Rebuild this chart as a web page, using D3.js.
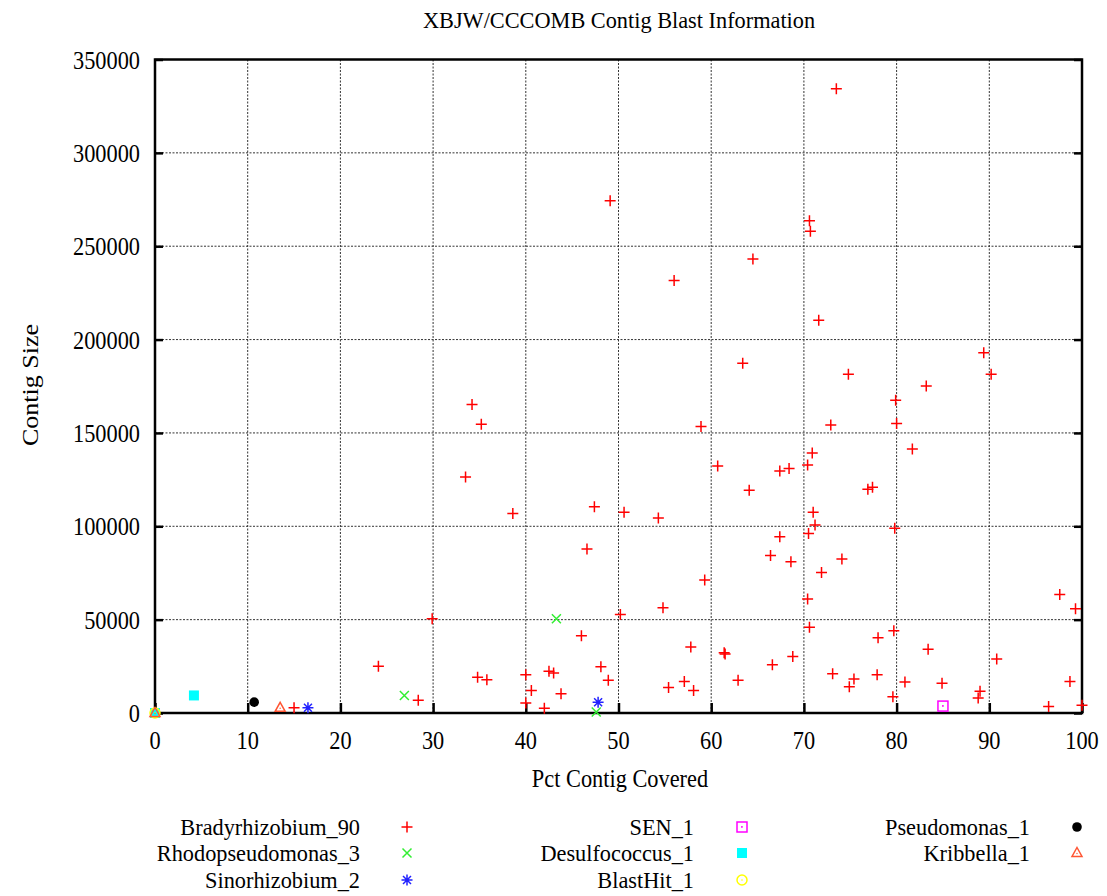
<!DOCTYPE html>
<html>
<head>
<meta charset="utf-8">
<script src="https://cdn.jsdelivr.net/npm/d3@7"></script>
<style>
  body { margin: 0; background: #fff; }
  svg text { font-family: "Liberation Serif", "Times New Roman", serif; fill: #000; }
</style>
</head>
<body>
<svg id="chart" width="1107" height="896"></svg>
<script>
// values: [pct contig covered, contig size]
const bradyrhizobium = [
  [73.5,334400],[70.6,263700],[70.7,258000],[64.5,243200],[56.0,231600],[71.6,210300],[63.4,187300],
  [89.4,193000],[74.8,181400],[90.2,181400],[83.2,175100],[49.1,274400],
  [34.2,165200],[35.2,154600],[33.5,126400],[38.6,106800],[47.4,110500],[46.6,87800],
  [79.9,167500],[58.9,153500],[72.9,154200],[80.0,155100],[81.7,141400],[70.9,139200],[60.7,132300],
  [70.4,132800],[67.4,129600],[68.4,130900],[76.9,119800],[77.4,120900],[64.1,119300],[50.6,107500],
  [54.3,104400],[71.0,107500],[71.2,100700],[79.8,98900],[70.5,96100],[67.4,94400],[66.4,84400],
  [68.6,81000],[74.1,82500],[71.9,75200],[59.3,71200],[97.6,63500],[99.3,55900],[70.4,61000],[54.8,56400],
  [50.2,52800],[46.0,41400],[57.8,35300],[61.4,32300],[61.5,31600],[68.8,30300],[66.6,25900],[48.1,24800],
  [40.0,20500],[42.5,22400],[43.0,21400],[35.8,17800],[48.9,17500],[55.4,13600],[57.1,16900],[58.1,12100],
  [62.9,17500],[40.6,12100],[43.8,10300],[40.0,5300],[42.0,2600],
  [29.9,50500],[24.1,25000],[34.8,19200],[28.4,6800],[15.0,2800],
  [70.6,45900],[78.0,40300],[79.7,44100],[83.4,34200],[90.8,28900],[73.1,21000],[75.4,18200],[74.9,14100],
  [77.9,20500],[80.9,16600],[84.9,16000],[89.0,11700],[88.8,8000],[79.6,8700],[98.7,16900],[96.4,3500],[100.0,4200]
];
const rhodopseudomonas = [[26.9,9400],[43.3,50500],[47.6,500],[0,0]];
const sinorhizobium = [[16.5,2800],[47.8,5800]];
const sen = [[85.0,3700]];
const desulfococcus = [[4.2,9400],[0,0]];
const blastHit = [[0,0]];
const pseudomonas = [[10.7,5800]];
const kribbella = [[13.5,2800],[0,0]];

const seriesNames = ["Bradyrhizobium_90","Rhodopseudomonas_3","Sinorhizobium_2","SEN_1",
                     "Desulfococcus_1","BlastHit_1","Pseudomonas_1","Kribbella_1"];
const seriesData = [bradyrhizobium, rhodopseudomonas, sinorhizobium, sen,
                    desulfococcus, blastHit, pseudomonas, kribbella];

const xTicks = [0,10,20,30,40,50,60,70,80,90,100];
const yTicks = [0,50000,100000,150000,200000,250000,300000,350000];

const svg = d3.select("#chart");
const plotLeft = 155, plotRight = 1082, plotTop = 59.5, plotBottom = 713;

const x = d3.scaleLinear().domain([0,100]).range([plotLeft,plotRight]);
const y = d3.scaleLinear().domain([0,350000]).range([plotBottom,plotTop]);

// squeezed serif text, the original looks horizontally condensed
function label(g, tx, ty, str, size, anchor, sx) {
  return g.append("text")
    .attr("transform", `translate(${tx},${ty}) scale(${sx},1)`)
    .attr("text-anchor", anchor)
    .attr("dy", "0.35em")
    .style("font-size", size + "px")
    .text(str);
}

// grid
const grid = svg.append("g");
grid.selectAll(".vg").data(xTicks.slice(1, -1)).enter().append("line")
  .attr("x1", d => x(d)).attr("x2", d => x(d)).attr("y1", plotTop).attr("y2", plotBottom)
  .attr("stroke", "#333").attr("stroke-width", 1).attr("stroke-dasharray", "2,1.5");
grid.selectAll(".hg").data(yTicks.slice(1, -1)).enter().append("line")
  .attr("x1", plotLeft).attr("x2", plotRight).attr("y1", d => y(d)).attr("y2", d => y(d))
  .attr("stroke", "#333").attr("stroke-width", 1).attr("stroke-dasharray", "2,1.5");

// axes: ticks inward, labels by hand so the font can be squeezed
const xAxis = svg.append("g").attr("transform", `translate(0,${plotBottom})`)
  .call(d3.axisBottom(x).tickValues(xTicks).tickSize(-10).tickFormat(""));
const yAxis = svg.append("g").attr("transform", `translate(${plotLeft},0)`)
  .call(d3.axisLeft(y).tickValues(yTicks).tickSize(-8).tickFormat(""));
const yAxisR = svg.append("g").attr("transform", `translate(${plotRight},0)`)
  .call(d3.axisRight(y).tickValues(yTicks).tickSize(-8).tickFormat(""));
[xAxis, yAxis, yAxisR].forEach(a => {
  a.select(".domain").remove();
  a.selectAll(".tick line").attr("stroke", "#000").attr("stroke-width", 2.5);
});

svg.append("rect")
  .attr("x", plotLeft).attr("y", plotTop)
  .attr("width", plotRight - plotLeft).attr("height", plotBottom - plotTop)
  .attr("fill", "none").attr("stroke", "#000").attr("stroke-width", 2.5);

const labels = svg.append("g");
xTicks.forEach(t => label(labels, x(t), 740, t, 26, "middle", 0.86));
yTicks.forEach(t => label(labels, 140, y(t), t, 26, "end", 0.86));

label(labels, 619, 20, "XBJW/CCCOMB Contig Blast Information", 24, "middle", 0.93);
label(labels, 620, 778, "Pct Contig Covered", 26, "middle", 0.86);
labels.append("text")
  .attr("transform", "translate(30,385) rotate(-90) scale(1,0.86)")
  .attr("text-anchor", "middle").attr("dy", "0.35em")
  .style("font-size", "26px").text("Contig Size");

// marker shapes, one per series
const markers = [
  { color: "#ff0000", draw: g => g.append("path").attr("d", "M-5.5,0H5.5M0,-5.5V5.5").attr("fill", "none").attr("stroke-width", 1.5) },
  { color: "#33ee33", draw: g => g.append("path").attr("d", "M-4.5,-4.5L4.5,4.5M-4.5,4.5L4.5,-4.5").attr("fill", "none").attr("stroke-width", 1.5) },
  { color: "#2222ff", draw: g => g.append("path").attr("d", "M-5.5,0H5.5M0,-5.5V5.5M-4,-4L4,4M-4,4L4,-4").attr("fill", "none").attr("stroke-width", 1.5) },
  { color: "#ff00ff", draw: g => {
      g.append("rect").attr("x", -5).attr("y", -5).attr("width", 10).attr("height", 10).attr("fill", "none").attr("stroke-width", 1.5);
      g.append("rect").attr("x", -0.6).attr("y", -0.6).attr("width", 1.2).attr("height", 1.2).attr("stroke-width", 0.5);
    } },
  { color: "#00ffff", draw: g => g.append("rect").attr("x", -5).attr("y", -5).attr("width", 10).attr("height", 10).attr("stroke", "none") },
  { color: "#ffff00", draw: g => {
      g.append("circle").attr("r", 5).attr("fill", "none").attr("stroke-width", 1.5);
      g.append("circle").attr("r", 0.8).attr("stroke", "none");
    } },
  { color: "#000000", draw: g => g.append("circle").attr("r", 4.8).attr("stroke", "none") },
  { color: "#ff5533", draw: g => {
      g.append("path").attr("d", "M0,-5.5L5,3.5L-5,3.5Z").attr("fill", "none").attr("stroke-width", 1.5);
      g.append("circle").attr("cy", 0.5).attr("r", 0.7).attr("stroke", "none");
    } }
];

// points
const plot = svg.append("g");
seriesData.forEach((data, i) => {
  const m = markers[i];
  plot.append("g").selectAll("g").data(data).enter().append("g")
    .attr("transform", d => `translate(${x(d[0])},${y(d[1])})`)
    .attr("stroke", m.color).attr("fill", m.color)
    .each(function () { m.draw(d3.select(this)); });
});

// legend: three columns
const legendCols = [[360, 407], [694, 742], [1030, 1077]];
const legendRows = [827, 853, 880];
const legendPos = [[0,0],[0,1],[0,2],[1,0],[1,1],[1,2],[2,0],[2,1]];
const legend = svg.append("g");
seriesNames.forEach((name, i) => {
  const [c, r] = legendPos[i];
  const ly = legendRows[r];
  label(legend, legendCols[c][0], ly, name, 24, "end", 0.93);
  const g = legend.append("g").attr("transform", `translate(${legendCols[c][1]},${ly})`)
    .attr("stroke", markers[i].color).attr("fill", markers[i].color);
  markers[i].draw(g);
});
</script>
</body>
</html>
